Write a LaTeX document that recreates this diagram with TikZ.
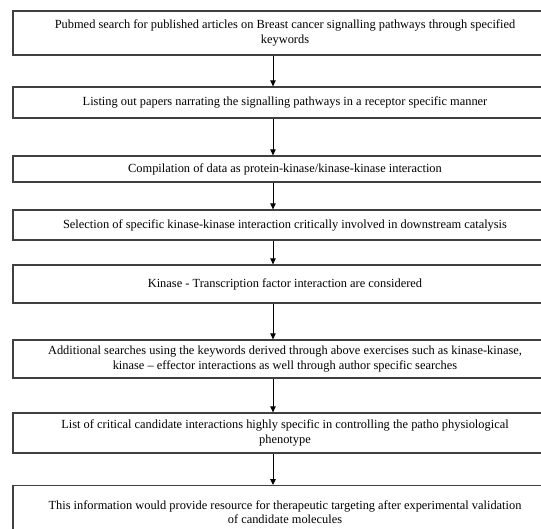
\documentclass[tikz,border=0pt]{standalone}
\usepackage{fontspec}
\setmainfont{Liberation Serif}
\usetikzlibrary{arrows.meta}

\begin{document}
\begin{tikzpicture}[x=1pt, y=-1pt, >={Triangle[length=6pt, width=5.5pt]},
    stepbox/.style={draw=black!75, line width=1.3pt, fill=white, align=center,
      minimum width=544pt, inner sep=0pt, font=\fontsize{12.4}{14.5}\selectfont},
    flow/.style={->, line width=0.9pt}]
    % Rahmen (Bild ist rechts und unten beschnitten)
    \useasboundingbox (0,0) rectangle (541,529);
    \clip (0,0) rectangle (541,529);

    % Kaesten
    \node[stepbox, minimum height=44pt] (pubmed) at (285,33)
      {Pubmed search for published articles on Breast cancer signalling pathways through specified\\ keywords};
    \node[stepbox, minimum height=31pt] (listing) at (285,102.5)
      {Listing out papers narrating the signalling pathways in a receptor specific manner};
    \node[stepbox, minimum height=26pt] (compile) at (285,169)
      {Compilation of data as protein-kinase/kinase-kinase interaction};
    \node[stepbox, minimum height=30pt] (select) at (285,225)
      {Selection of specific kinase-kinase interaction critically involved in downstream catalysis};
    \node[stepbox, minimum height=38pt] (tf) at (285,284)
      {Kinase - Transcription factor interaction are considered};
    \node[stepbox, minimum height=38pt] (search) at (285,359)
      {Additional searches using the keywords derived through above exercises such as kinase-kinase,\\ kinase -- effector interactions as well through author specific searches};
    \node[stepbox, minimum height=40pt] (critical) at (285,433)
      {List of critical candidate interactions highly specific in controlling the patho physiological\\ phenotype};
    \node[stepbox, minimum height=54pt, anchor=north] (therapy) at (285,485)
      {\raisebox{10pt}{\parbox{520pt}{\centering This information would provide resource for therapeutic targeting after experimental validation\\ of candidate molecules}}};

    % Pfeile (leicht links der Mitte)
    \foreach \a/\b in {pubmed/listing, listing/compile, compile/select, select/tf,
                       tf/search, search/critical, critical/therapy}
      \draw[flow] ([xshift=-12pt]\a.south) -- ([xshift=-12pt]\b.north);
\end{tikzpicture}
\end{document}
